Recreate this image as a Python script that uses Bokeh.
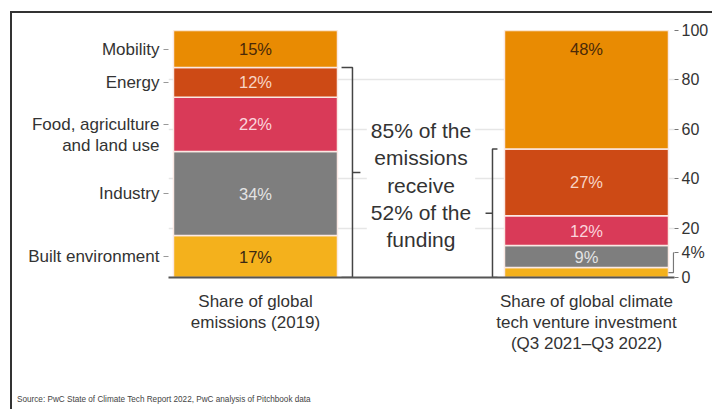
from bokeh.plotting import figure
from bokeh.models import ColumnDataSource, LinearAxis, FixedTicker, Label, Range1d, Div
from bokeh.layouts import column
from bokeh.core.properties import value
from bokeh.embed import file_html
from bokeh.resources import INLINE

# ---------------- data ----------------
sectors = ["Built environment", "Industry", "Food, agriculture\nand land use", "Energy", "Mobility"]
emissions = [17, 34, 22, 12, 15]        # share of global emissions (2019), %
investment = [4, 9, 12, 27, 48]         # share of climate tech VC investment, %
sector_colors = ["#F4B11C", "#7E7E7E", "#D93A58", "#CD4A15", "#E98B02"]
label_colors = ["#3a2812", "#e4e4e4", "#fbd4dc", "#f8d5c5", "#4a2908"]
bar_titles = ["Share of global\nemissions (2019)",
              "Share of global climate\ntech venture investment\n(Q3 2021\u2013Q3 2022)"]
right_ticks = [0, 20, 40, 60, 80, 100]
grid_ticks = [20, 40, 60, 80]
callout_lines = ["85% of the", "emissions", "receive", "52% of the", "funding"]
source_note = "Source: PwC State of Climate Tech Report 2022, PwC analysis of Pitchbook data"

FONT = "Liberation Sans"
TXT = "#333333"
BAR_W = 0.4955
X_END = 1.2659

# ---------------- build stacked segments ----------------
xs, bottoms, tops, cols, lab_x, lab_y, lab_t, lab_c = [], [], [], [], [], [], [], []
for bi, series in enumerate([emissions, investment]):
    acc = 0
    for si, v in enumerate(series):
        xs.append(bi); bottoms.append(acc); tops.append(acc + v); cols.append(sector_colors[si])
        if v >= 5:
            lab_x.append(bi)
            lab_y.append(acc + v / 2 if v <= 40 else acc + v - 7.5)
            lab_t.append(f"{v}%")
            lab_c.append(label_colors[si])
        acc += v

seg = ColumnDataSource(dict(x=xs, bottom=bottoms, top=tops, color=cols))
labs = ColumnDataSource(dict(x=lab_x, y=lab_y, text=lab_t, color=lab_c))

p = figure(width=700, height=375,
           x_range=Range1d(-0.2628, X_END), y_range=Range1d(0, 100),
           output_backend="svg", toolbar_location=None, y_axis_location="right",
           min_border_left=156, min_border_right=38, min_border_top=17, min_border_bottom=111)
p.outline_line_color = None
p.background_fill_color = "white"
p.xgrid.visible = False
p.ygrid.ticker = FixedTicker(ticks=grid_ticks)
p.ygrid.grid_line_color = "#e6e6e6"
p.ygrid.grid_line_width = 1.5

p.vbar(x="x", width=BAR_W, bottom="bottom", top="top", fill_color="color",
       line_color="#fbe9e4", line_width=1.5, source=seg)
p.text(x="x", y="y", text="text", text_color="color", source=labs,
       text_align="center", text_baseline="middle",
       text_font=value(FONT), text_font_size="16.5px")

# right axis (0-100) plus the small "4%" call-out for built environment investment
callout_y = 10
ax = p.yaxis[0]
ax.ticker = FixedTicker(ticks=right_ticks + [callout_y])
ax.major_label_overrides = {callout_y: f"{investment[0]}%"}
ax.axis_line_color = None
ax.major_tick_in = 0
ax.major_tick_out = 4
ax.major_tick_line_color = "#777777"
ax.major_tick_line_width = 1.2
ax.minor_tick_line_color = None
ax.major_label_standoff = 3
ax.major_label_text_font = FONT
ax.major_label_text_font_size = "16px"
ax.major_label_text_color = TXT

# left axis with sector names at emission segment centres
centres, acc = [], 0
for v in emissions:
    centres.append(acc + v / 2)
    acc += v
overrides = {}
for c, s in zip(centres, sectors):
    # multi-line names: keep the first line level with the tick
    overrides[c] = (" \n" * s.count("\n")) + s if "\n" in s else s
left = LinearAxis(ticker=FixedTicker(ticks=centres), major_label_overrides=overrides)
left.axis_line_color = None
left.major_tick_in = 0
left.major_tick_out = 5
left.major_tick_line_color = "#999999"
left.minor_tick_line_color = None
left.major_label_standoff = 4
left.major_label_text_font = FONT
left.major_label_text_font_size = "17px"
left.major_label_text_color = TXT
left.major_label_text_line_height = 1.12
p.add_layout(left, "left")

# bottom axis with bar titles
bx = p.xaxis[0]
bx.ticker = FixedTicker(ticks=[0, 1])
bx.major_label_overrides = {0: bar_titles[0], 1: bar_titles[1]}
bx.axis_line_color = "#555555"
bx.axis_line_width = 2
bx.major_tick_in = 0
bx.major_tick_out = 0
bx.minor_tick_line_color = None
bx.major_label_standoff = 14
bx.major_label_text_font = FONT
bx.major_label_text_font_size = "17px"
bx.major_label_text_color = TXT
bx.major_label_text_line_height = 1.13

# brackets
BR = "#444444"
e_top = sum(emissions[:-1])
i_top = sum(investment[:-1])
bar_right = 1 + BAR_W / 2
y_mid = investment[0] / 2
p.multi_line(xs=[[0.26, 0.293, 0.293, 0.26], [0.293, 0.317],
                 [0.731, 0.716, 0.716, 0.731], [0.716, 0.695]],
             ys=[[e_top, e_top, 0, 0], [e_top / 2, e_top / 2],
                 [i_top, i_top, 0, 0], [i_top / 2, i_top / 2]],
             line_color=BR, line_width=1.5)
p.line(x=[bar_right, 1.2628, 1.2628, X_END], y=[y_mid, y_mid, callout_y, callout_y],
       line_color="#777777", line_width=1.2)

p.add_layout(Label(x=0.5, y=37.4, text="\n".join(callout_lines),
                   text_align="center", text_baseline="middle",
                   text_font=FONT, text_font_size="21px", text_color=TXT,
                   text_line_height=1.18,
                   background_fill_color="white", padding=4))

note = Div(text=source_note, width=700, height=14,
           styles={"font-family": "'Liberation Sans'", "font-size": "9.5px",
                   "color": "#444444", "line-height": "12px",
                   "white-space": "nowrap", "transform": "scaleX(0.86)",
                   "transform-origin": "0 50%"})

layout = column(p, note, spacing=0,
                styles={"margin-left": "10px", "margin-top": "11px",
                        "border-top": "2px solid #333", "border-left": "2px solid #333"})

open("out.html", "w").write(file_html(layout, INLINE))
